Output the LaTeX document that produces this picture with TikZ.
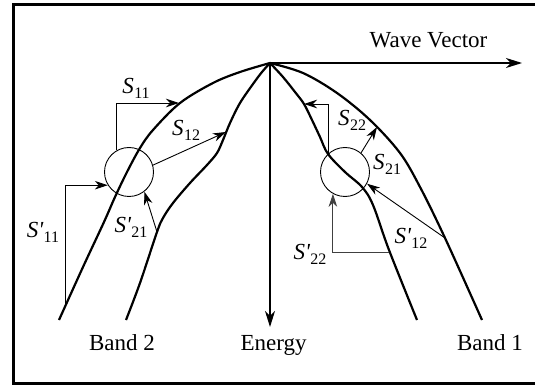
\documentclass[tikz,border=0pt]{standalone}
\usepackage{fontspec}
\setmainfont{Liberation Serif}
\usetikzlibrary{arrows.meta}
\newcommand{\Slb}[1]{\textit{S}\kern0.5pt\raisebox{-5pt}{\fontsize{16}{16}\selectfont #1}}
\newcommand{\Slbp}[1]{\textit{S\textquotesingle}\raisebox{-5pt}{\fontsize{16}{16}\selectfont #1}}
\begin{document}
\begin{tikzpicture}[x=1pt,y=-1pt,
  band/.style={line width=2.2pt},
  conn/.style={line width=0.9pt,-{Stealth[length=13pt,width=8.5pt,inset=4pt]}},
  axis/.style={line width=1.3pt,-{Stealth[length=16pt,width=10pt,inset=5pt]}},
  lbl/.style={font=\fontsize{23}{27}\selectfont,inner sep=0pt},
  ring/.style={circle,draw,line width=0.9pt,minimum size=49pt,inner sep=0pt}]
\useasboundingbox (0,0) rectangle (535,387);
\draw[line width=3pt] (540,5) -- (13.5,5) -- (13.5,383.5) -- (540,383.5);
% axes
\coordinate (apex) at (270,63);
\coordinate (wv) at (522,63);
\coordinate (en) at (270,327);
\draw[axis] (apex) -- (wv);
\draw[axis] (apex) -- (en);
% bands
\draw[band] plot[smooth,tension=0.55] coordinates {(59,320) (83,267) (104,222) (115,197) (127,172) (140,148) (153,130) (180,103) (213,83) (240,72) (270,63)};
\draw[band] plot[smooth,tension=0.55] coordinates {(126,320) (140,283) (157,232) (163,218) (173,203) (190,183) (207,165) (217,153) (223,140) (230,123) (240,103) (253,84) (262,72) (270,63)};
\draw[band] plot[smooth,tension=0.55] coordinates {(270,63) (283,77) (295,92) (304,104) (312,120) (320,137) (328,154) (345,172) (362,187) (373,205) (389,250) (417,320)};
\draw[band] plot[smooth,tension=0.55] coordinates {(270,63) (303,73) (337,93) (370,120) (400,153) (420,187) (445,238) (482,320)};
% circles
\node[ring] (c1) at (129,172) {};
\node[ring] (c2) at (345,172) {};
% connectors
\coordinate (s11e) at (179,103);
\draw[conn] (c1.119) |- (s11e);
\coordinate (s12e) at (226,132);
\draw[conn] (c1.16) -- (s12e);
\coordinate (s11ps) at (65,305);
\draw[conn] (s11ps) |- (c1.212);
\coordinate (s21ps) at (157,232);
\draw[conn] (s21ps) -- (c1.-52);
\coordinate (s22e) at (304,104);
\draw[conn] (c2.131) |- (s22e);
\coordinate (s21e) at (377,127);
\draw[conn] (c2.50) -- (s21e);
\coordinate (s22ps) at (389,252);
\draw[conn,draw=black!75] (s22ps) -| (c2.-119);
\coordinate (s12ps) at (445,238);
\draw[conn] (s12ps) -- (c2.-28);
% labels
\node[lbl] (l11) at (136,88) {\Slb{11}};
\node[lbl] (l12) at (186,130) {\Slb{12}};
\node[lbl] (l11p) at (43,232) {\Slbp{11}};
\node[lbl] (l21p) at (131,227) {\Slbp{21}};
\node[lbl] (l22) at (352,120) {\Slb{22}};
\node[lbl] (l21) at (387,164) {\Slb{21}};
\node[lbl] (l22p) at (310,254) {\Slbp{22}};
\node[lbl] (l12p) at (411,238) {\Slbp{12}};
\node[lbl,anchor=base] (wvl) at (428.5,48) {Wave Vector};
\node[lbl,anchor=base] (b2) at (122,350) {Band 2};
\node[lbl,anchor=base] (enl) at (273.5,350) {Energy};
\node[lbl,anchor=base] (b1) at (490,350) {Band 1};
\end{tikzpicture}
\end{document}
